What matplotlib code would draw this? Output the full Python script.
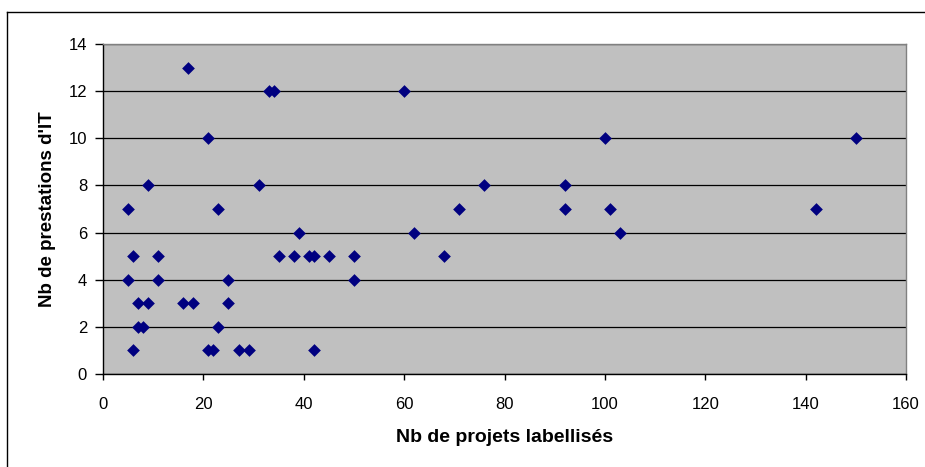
import matplotlib
matplotlib.use("Agg")
import matplotlib.pyplot as plt
from matplotlib.lines import Line2D

projets = [5, 5, 6, 6, 7, 7, 8, 9, 9, 11, 11, 16, 17, 18, 21, 21, 22, 23, 23, 25, 25,
           27, 29, 31, 33, 34, 35, 38, 39, 41, 42, 42, 45, 50, 50, 60, 62, 68, 71, 76,
           92, 92, 100, 101, 103, 142, 150]
prestations = [7, 4, 5, 1, 3, 2, 2, 8, 3, 5, 4, 3, 13, 3, 10, 1, 1, 7, 2, 4, 3,
               1, 1, 8, 12, 12, 5, 5, 6, 5, 5, 1, 5, 5, 4, 12, 6, 5, 7, 8,
               8, 7, 10, 7, 6, 7, 10]
x_ticks = [0, 20, 40, 60, 80, 100, 120, 140, 160]
y_ticks = [0, 2, 4, 6, 8, 10, 12, 14]

plt.rcParams['font.family'] = ['Liberation Sans', 'DejaVu Sans']

W, H = 925, 467
fig = plt.figure(figsize=(W / 100, H / 100), dpi=100)
ax = fig.add_axes([103 / W, 1 - 374 / H, (906 - 103) / W, (374 - 44) / H])

ax.set_facecolor('#C0C0C0')
ax.scatter(projets, prestations, marker='D', s=42, color='#000080', zorder=3, linewidths=0)
ax.set_xlim(0, 160)
ax.set_ylim(0, 14)
ax.set_xticks(x_ticks)
ax.set_yticks(y_ticks)
ax.grid(axis='y', color='black', linewidth=0.9, zorder=1)
ax.set_axisbelow(True)
ax.tick_params(axis='x', direction='out', length=4.5, width=1, labelsize=12, colors='black', pad=12)
ax.tick_params(axis='y', direction='out', length=5.5, width=1, labelsize=12, colors='black', pad=6)
for s in ['left', 'bottom']:
    ax.spines[s].set_color('black')
    ax.spines[s].set_linewidth(1)
for s in ['top', 'right']:
    ax.spines[s].set_color('#808080')
    ax.spines[s].set_linewidth(1)

ax.set_xlabel("Nb de projets labellisés", fontsize=14, fontweight='bold', labelpad=12)
ax.set_ylabel("Nb de prestations d'IT", fontsize=13.5, fontweight='bold', labelpad=9)

# outer chart border
fig.add_artist(Line2D([7 / W, 7 / W], [0, 1 - 12 / H], transform=fig.transFigure, color='black', linewidth=1))
fig.add_artist(Line2D([7 / W, 1], [1 - 12 / H, 1 - 12 / H], transform=fig.transFigure, color='black', linewidth=1))

fig.savefig('out.png', dpi=100)
